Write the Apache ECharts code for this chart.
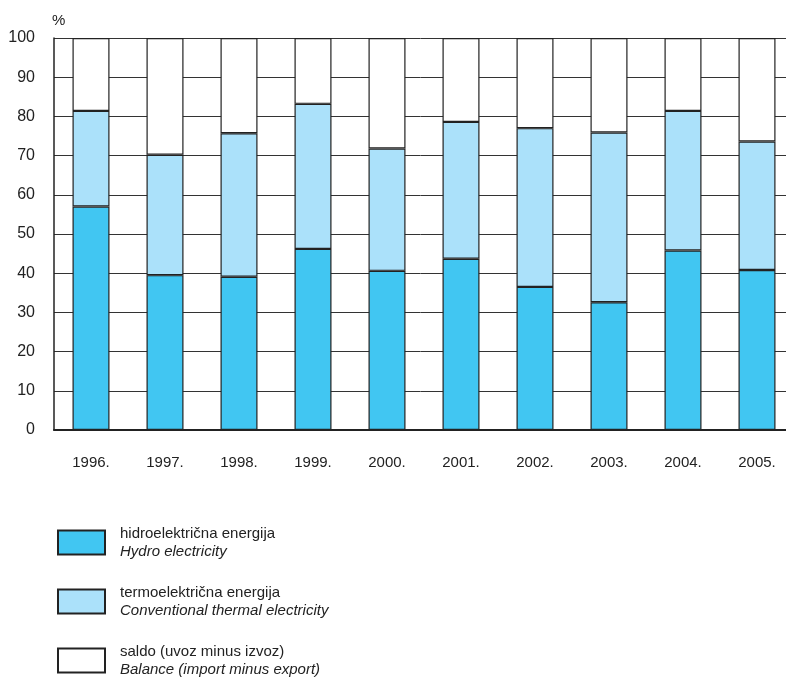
<!DOCTYPE html>
<html>
<head>
<meta charset="utf-8">
<script src="https://cdn.jsdelivr.net/npm/echarts@6/dist/echarts.min.js"></script>
<style>
html,body{margin:0;padding:0;background:#fff;}
#chart{width:786px;height:677px;}
</style>
</head>
<body>
<div id="chart"></div>
<script>
const years = ['1996.','1997.','1998.','1999.','2000.','2001.','2002.','2003.','2004.','2005.'];
const hydro = [57.0, 39.5, 39.1, 46.2, 40.6, 43.7, 36.5, 32.6, 45.8, 40.8];
const thermal = [24.4, 30.7, 36.6, 37.0, 31.2, 34.9, 40.5, 43.3, 35.6, 32.8];
const balance = [18.6, 29.8, 24.3, 16.8, 28.2, 21.4, 23.0, 24.1, 18.6, 26.4];
const yTicks = [0, 10, 20, 30, 40, 50, 60, 70, 80, 90, 100];
const seriesNames = ['hidroelektrična energija', 'termoelektrična energija', 'saldo (uvoz minus izvoz)'];
const seriesNamesEn = ['Hydro electricity', 'Conventional thermal electricity', 'Balance (import minus export)'];
const colors = ['#41c6f2', '#abe1fa', '#ffffff'];

const chart = echarts.init(document.getElementById('chart'), null, {renderer: 'canvas'});
const font = '"Liberation Sans", Arial, sans-serif';
const dataSets = [hydro, thermal, balance];

const option = {
  animation: false,
  backgroundColor: '#ffffff',
  textStyle: {fontFamily: font},
  grid: {left: 54, top: 38, width: 740, height: 392, outerBoundsMode: 'none', containLabel: false},
  xAxis: {
    type: 'category',
    data: years,
    axisTick: {show: false},
    axisLine: {lineStyle: {color: '#222', width: 2}},
    axisLabel: {color: '#222', fontSize: 15, margin: 25, fontFamily: font},
    splitLine: {show: false}
  },
  yAxis: {
    type: 'value',
    min: yTicks[0],
    max: yTicks[yTicks.length - 1],
    interval: 10,
    name: '%',
    nameLocation: 'end',
    nameGap: 10,
    nameTextStyle: {color: '#222', fontSize: 15, align: 'left', padding: [0, 0, 0, -2], fontFamily: font},
    axisLine: {show: true, lineStyle: {color: '#222', width: 1.5}},
    axisTick: {show: false},
    axisLabel: {color: '#222', fontSize: 16, margin: 19, fontFamily: font},
    splitLine: {show: true, lineStyle: {color: '#333', width: 1}}
  },
  legend: {
    orient: 'vertical',
    left: 52,
    top: 521,
    height: 300,
    itemWidth: 47,
    itemHeight: 24,
    itemGap: 26,
    icon: 'rect',
    data: seriesNames,
    formatter: function (name) {
      const i = seriesNames.indexOf(name);
      return '{a|' + name + '}\n{b|' + seriesNamesEn[i] + '}';
    },
    textStyle: {
      padding: [0, 0, 0, 10],
      rich: {
        a: {fontSize: 15, color: '#222', lineHeight: 18, fontFamily: font},
        b: {fontSize: 15, color: '#222', lineHeight: 18, fontStyle: 'italic', fontFamily: font}
      }
    }
  },
  series: seriesNames.map(function (n, i) {
    return {
      name: n,
      type: 'bar',
      stack: 'total',
      data: dataSets[i],
      barCategoryGap: '50%',
      itemStyle: {color: colors[i], borderColor: '#222', borderWidth: 1.2}
    };
  })
};
chart.setOption(option);
</script>
</body>
</html>
